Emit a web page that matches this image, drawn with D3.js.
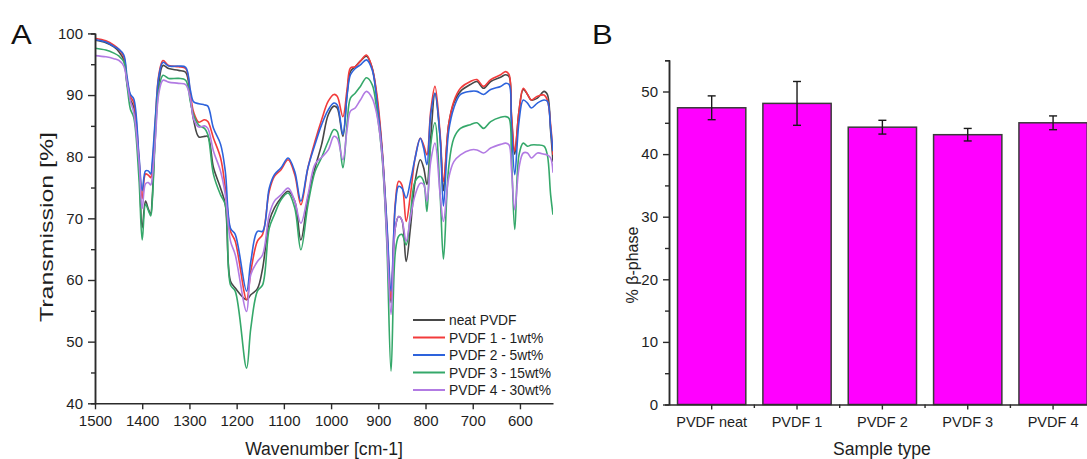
<!DOCTYPE html>
<html>
<head>
<meta charset="utf-8">
<script src="https://cdn.jsdelivr.net/npm/d3@7"></script>
<style>
  html, body { margin: 0; padding: 0; background: #fff; }
  svg { display: block; font-family: "Liberation Sans", Arial, sans-serif; }
</style>
</head>
<body>
<svg id="fig" width="1087" height="459"></svg>
<script>
// ---------- Panel A: FTIR spectra ----------
const wavenumbers = [1500,1477,1460,1449,1439,1432,1425,1418,1407,1400,1393,1387,1382,1379,1372,1365,1356,1344,1323,1308,1298,1291,1280,1268,1261,1249,1234,1224,1213,1203,1179,1170,1156,1145,1131,1120,1106,1091,1077,1064,1049,1034,1020,1006,994,987,975,966,959,949,938,925,913,903,892,882,873,864,857,850,841,832,822,811,804,797,789,780,769,762,751,740,726,705,691,677,662,641,630,623,618,611,602,593,584,576,563,549,542,535,530];

const neatPVDF = [98.9,98.5,97.8,97.0,95.7,91.8,89.3,88.0,78.8,68.5,72.8,71.5,70.7,73.0,84.5,91.8,94.8,94.3,94.0,93.7,89.4,85.9,83.2,83.3,83.3,78.2,74.9,72.2,59.8,58.7,56.8,57.6,58.6,61.9,69.5,71.7,73.3,74.4,72.8,66.5,73.3,78.2,82.0,86.8,88.2,87.9,83.3,90.3,93.8,94.6,95.5,96.3,94.4,89.5,80.8,68.0,56.3,68.5,70.3,69.7,63.0,68.4,76.0,79.5,78.2,75.5,83.0,90.3,83.0,74.5,85.2,88.7,90.6,91.7,92.2,91.1,92.2,92.9,93.3,93.0,86.5,80.4,87.4,90.9,90.1,89.2,89.5,90.6,90.1,84.1,79.2];
const pvdf1 = [99.2,98.8,98.1,97.4,96.2,92.4,89.8,88.8,79.8,73.2,77.2,77.0,76.6,78.0,86.0,93.2,95.6,94.8,94.6,94.3,90.2,87.2,85.6,86.0,85.7,83.0,79.8,74.9,67.9,66.3,56.8,61.4,66.3,67.4,74.4,76.8,77.9,79.5,77.1,72.2,78.2,82.5,86.0,89.0,90.1,89.8,86.5,91.0,94.4,94.6,95.5,96.5,94.4,90.1,81.5,69.0,56.8,72.5,76.0,75.4,69.5,73.8,79.8,83.0,81.9,80.3,87.4,91.4,83.6,76.0,85.2,89.0,91.1,92.2,92.5,91.4,92.5,93.3,93.8,93.3,87.0,80.9,87.4,91.1,90.1,89.2,89.8,90.0,89.2,85.2,80.3];
const pvdf2 = [99.0,98.6,97.9,97.4,96.5,92.9,90.1,89.4,80.3,74.5,77.7,77.7,77.2,79.0,86.5,92.9,95.3,94.7,94.7,94.5,90.8,88.9,88.6,88.4,88.2,84.6,82.0,77.6,68.4,67.4,58.2,63.0,67.9,67.9,74.9,77.1,78.2,79.8,77.6,72.8,78.2,82.0,85.2,87.6,88.7,88.4,83.6,90.0,93.3,94.3,94.9,95.7,94.1,89.0,81.0,69.5,58.2,72.0,75.2,74.9,73.3,76.0,79.8,83.0,81.4,78.7,86.8,90.3,83.0,72.0,84.1,87.9,90.1,90.6,90.6,90.1,90.9,91.4,91.9,91.7,85.0,77.1,85.7,89.2,88.7,87.9,88.7,89.2,89.0,84.6,80.9];
const pvdf3 = [97.6,97.3,96.8,96.3,95.4,91.5,87.7,86.4,76.6,66.5,72.3,71.3,70.4,72.5,83.5,90.8,93.2,92.7,92.7,92.4,88.9,86.7,85.1,84.6,83.6,77.1,73.8,72.2,59.2,58.2,45.7,52.2,58.2,59.2,68.4,70.6,73.0,74.1,71.7,64.9,72.2,77.6,79.9,82.5,84.4,84.1,78.2,85.5,89.5,90.3,91.4,92.8,91.7,87.4,80.0,66.0,45.2,64.5,67.1,67.4,65.7,70.6,76.0,76.8,76.0,71.1,81.9,85.5,73.8,63.4,78.2,83.0,84.6,85.2,85.5,84.6,85.7,86.4,86.5,86.2,80.0,68.2,80.3,82.2,81.7,81.9,81.9,81.7,80.3,73.8,70.6];
const pvdf4 = [96.4,96.2,95.9,95.6,94.7,92.0,89.0,87.2,79.3,71.6,75.6,75.8,75.4,76.5,83.0,90.2,92.4,92.1,91.9,91.7,89.4,86.1,84.8,85.0,84.6,80.9,77.6,73.8,66.3,64.1,54.9,60.9,63.0,64.1,70.6,72.8,73.8,74.9,72.8,69.2,73.8,78.8,79.9,81.1,83.3,83.0,79.5,84.5,87.4,87.9,89.2,90.6,89.5,86.8,80.3,67.0,54.4,68.5,70.3,69.7,66.3,70.1,73.8,75.7,75.5,72.8,79.2,82.2,73.8,69.5,76.5,79.2,80.3,81.1,81.1,80.6,81.4,82.0,82.2,81.9,78.0,71.4,78.2,80.6,80.6,79.8,80.6,80.4,80.3,79.8,77.4];

const seriesNames = ["neat PVDF", "PVDF 1 - 1wt%", "PVDF 2 - 5wt%", "PVDF 3 - 15wt%", "PVDF 4 - 30wt%"];
const seriesValues = [neatPVDF, pvdf1, pvdf2, pvdf3, pvdf4];
const seriesColors = ["#474747", "#f23b3b", "#2d63dc", "#35a86a", "#b27be3"];
const xTicksA = [1500, 1400, 1300, 1200, 1100, 1000, 900, 800, 700, 600];
const yTicksA = [40, 50, 60, 70, 80, 90, 100];

// ---------- Panel B: beta-phase content ----------
const samples = ["PVDF neat", "PVDF 1", "PVDF 2", "PVDF 3", "PVDF 4"];
const betaPhase = [47.4, 48.1, 44.3, 43.1, 45.0];
const betaError = [1.9, 3.5, 1.1, 1.0, 1.1];
const yTicksB = [0, 10, 20, 30, 40, 50];

const svg = d3.select("#fig");
const axisColor = "#2b2b2b";
const textColor = "#1e1e1e";

function styleAxis(g) {
  g.selectAll("path.domain").attr("stroke", axisColor).attr("stroke-width", 1.5);
  g.selectAll(".tick line").attr("stroke", axisColor).attr("stroke-width", 1.4);
  g.selectAll(".tick text").attr("fill", textColor).style("font-size", "15px")
    .style("font-family", "'Liberation Sans', Arial, sans-serif");
}

// ----- Panel A -----
const xA = d3.scaleLinear().domain([1500, 530]).range([95, 553]);
const yA = d3.scaleLinear().domain([40, 100]).range([403.3, 33.4]);

svg.append("defs").append("clipPath").attr("id", "clipA")
  .append("rect").attr("x", 95).attr("y", 20).attr("width", 458).attr("height", 384);

const line = d3.line()
  .x((d, i) => xA(wavenumbers[i]))
  .y(d => yA(d))
  .curve(d3.curveCatmullRom.alpha(0.5));

const plotA = svg.append("g").attr("clip-path", "url(#clipA)");
seriesValues.forEach((vals, k) => {
  plotA.append("path")
    .datum(vals)
    .attr("fill", "none")
    .attr("stroke", seriesColors[k])
    .attr("stroke-width", 1.6)
    .attr("stroke-linejoin", "round")
    .attr("d", line);
});

// minor y ticks
const gyAminor = svg.append("g").attr("transform", "translate(95,0)")
  .call(d3.axisLeft(yA).tickValues([45, 55, 65, 75, 85, 95]).tickSize(4).tickFormat(""));
styleAxis(gyAminor);
const gyA = svg.append("g").attr("transform", "translate(95,0)")
  .call(d3.axisLeft(yA).tickValues(yTicksA).tickSize(7).tickSizeOuter(0).tickPadding(5));
styleAxis(gyA);

const gxA = svg.append("g").attr("transform", "translate(0,403.3)")
  .call(d3.axisBottom(xA).tickValues(xTicksA).tickFormat(d3.format("d"))
    .tickSize(6).tickSizeOuter(0).tickPadding(6));
styleAxis(gxA);

// axis titles
svg.append("text")
  .attr("x", 324).attr("y", 455)
  .attr("text-anchor", "middle")
  .attr("fill", textColor)
  .style("font-size", "17.6px")
  .text("Wavenumber [cm-1]");

svg.append("text")
  .attr("transform", "translate(53,227) rotate(-90)")
  .attr("text-anchor", "middle")
  .attr("fill", textColor)
  .attr("textLength", 190)
  .attr("lengthAdjust", "spacingAndGlyphs")
  .style("font-size", "19px")
  .text("Transmission [%]");

// panel letter
svg.append("text")
  .attr("transform", "translate(11,43.5) scale(1.15,1)")
  .attr("fill", "#111")
  .style("font-size", "27px")
  .text("A");

// legend
const legend = svg.append("g");
seriesNames.forEach((name, k) => {
  const cy = 320 + k * 17.5;
  legend.append("line")
    .attr("x1", 413).attr("x2", 445).attr("y1", cy).attr("y2", cy)
    .attr("stroke", seriesColors[k]).attr("stroke-width", 2);
  legend.append("text")
    .attr("x", 449).attr("y", cy + 5)
    .attr("fill", textColor)
    .style("font-size", "13.8px")
    .text(name);
});

// ----- Panel B -----
const xB = d3.scaleBand().domain(samples).range([669, 1095.75]).paddingInner(0.2).paddingOuter(0.1);
const yB = d3.scaleLinear().domain([0, 55]).range([404.5, 60.2]);

svg.append("g").selectAll("rect")
  .data(samples)
  .join("rect")
  .attr("x", d => xB(d))
  .attr("y", (d, i) => yB(betaPhase[i]))
  .attr("width", xB.bandwidth())
  .attr("height", (d, i) => yB(0) - yB(betaPhase[i]))
  .attr("fill", "#ff00ff")
  .attr("stroke", "#3a3a3a")
  .attr("stroke-width", 1.5);

// error bars
const eb = svg.append("g").attr("stroke", "#1a1a1a").attr("stroke-width", 1.4);
samples.forEach((s, i) => {
  const cx = xB(s) + xB.bandwidth() / 2;
  const hi = yB(betaPhase[i] + betaError[i]);
  const lo = yB(betaPhase[i] - betaError[i]);
  eb.append("line").attr("x1", cx).attr("x2", cx).attr("y1", hi).attr("y2", lo);
  eb.append("line").attr("x1", cx - 4).attr("x2", cx + 4).attr("y1", hi).attr("y2", hi);
  eb.append("line").attr("x1", cx - 4).attr("x2", cx + 4).attr("y1", lo).attr("y2", lo);
});

const gyBminor = svg.append("g").attr("transform", "translate(669,0)")
  .call(d3.axisLeft(yB).tickValues([5, 15, 25, 35, 45, 55]).tickSize(4).tickFormat(""));
styleAxis(gyBminor);
const gyB = svg.append("g").attr("transform", "translate(669,0)")
  .call(d3.axisLeft(yB).tickValues(yTicksB).tickSize(6).tickSizeOuter(0).tickPadding(5));
styleAxis(gyB);

// category boundary minor ticks
const xBounds = samples.slice(1).map(s => xB(s) - xB.step() * xB.paddingInner() / 2);
svg.append("g").selectAll("line").data(xBounds).join("line")
  .attr("x1", d => d).attr("x2", d => d).attr("y1", 404.5).attr("y2", 408)
  .attr("stroke", axisColor).attr("stroke-width", 1.4);

const gxB = svg.append("g").attr("transform", "translate(0,404.5)")
  .call(d3.axisBottom(xB).tickSize(5).tickSizeOuter(0).tickPadding(7));
styleAxis(gxB);
gxB.selectAll(".tick text").style("font-size", "14.5px");

svg.append("text")
  .attr("x", 882).attr("y", 455)
  .attr("text-anchor", "middle")
  .attr("fill", textColor)
  .style("font-size", "17.6px")
  .text("Sample type");

svg.append("text")
  .attr("transform", "translate(638,265) rotate(-90)")
  .attr("text-anchor", "middle")
  .attr("fill", textColor)
  .style("font-size", "16px")
  .text("% β-phase");

svg.append("text")
  .attr("transform", "translate(592,43.5) scale(1.15,1)")
  .attr("fill", "#111")
  .style("font-size", "27px")
  .text("B");
</script>
</body>
</html>
